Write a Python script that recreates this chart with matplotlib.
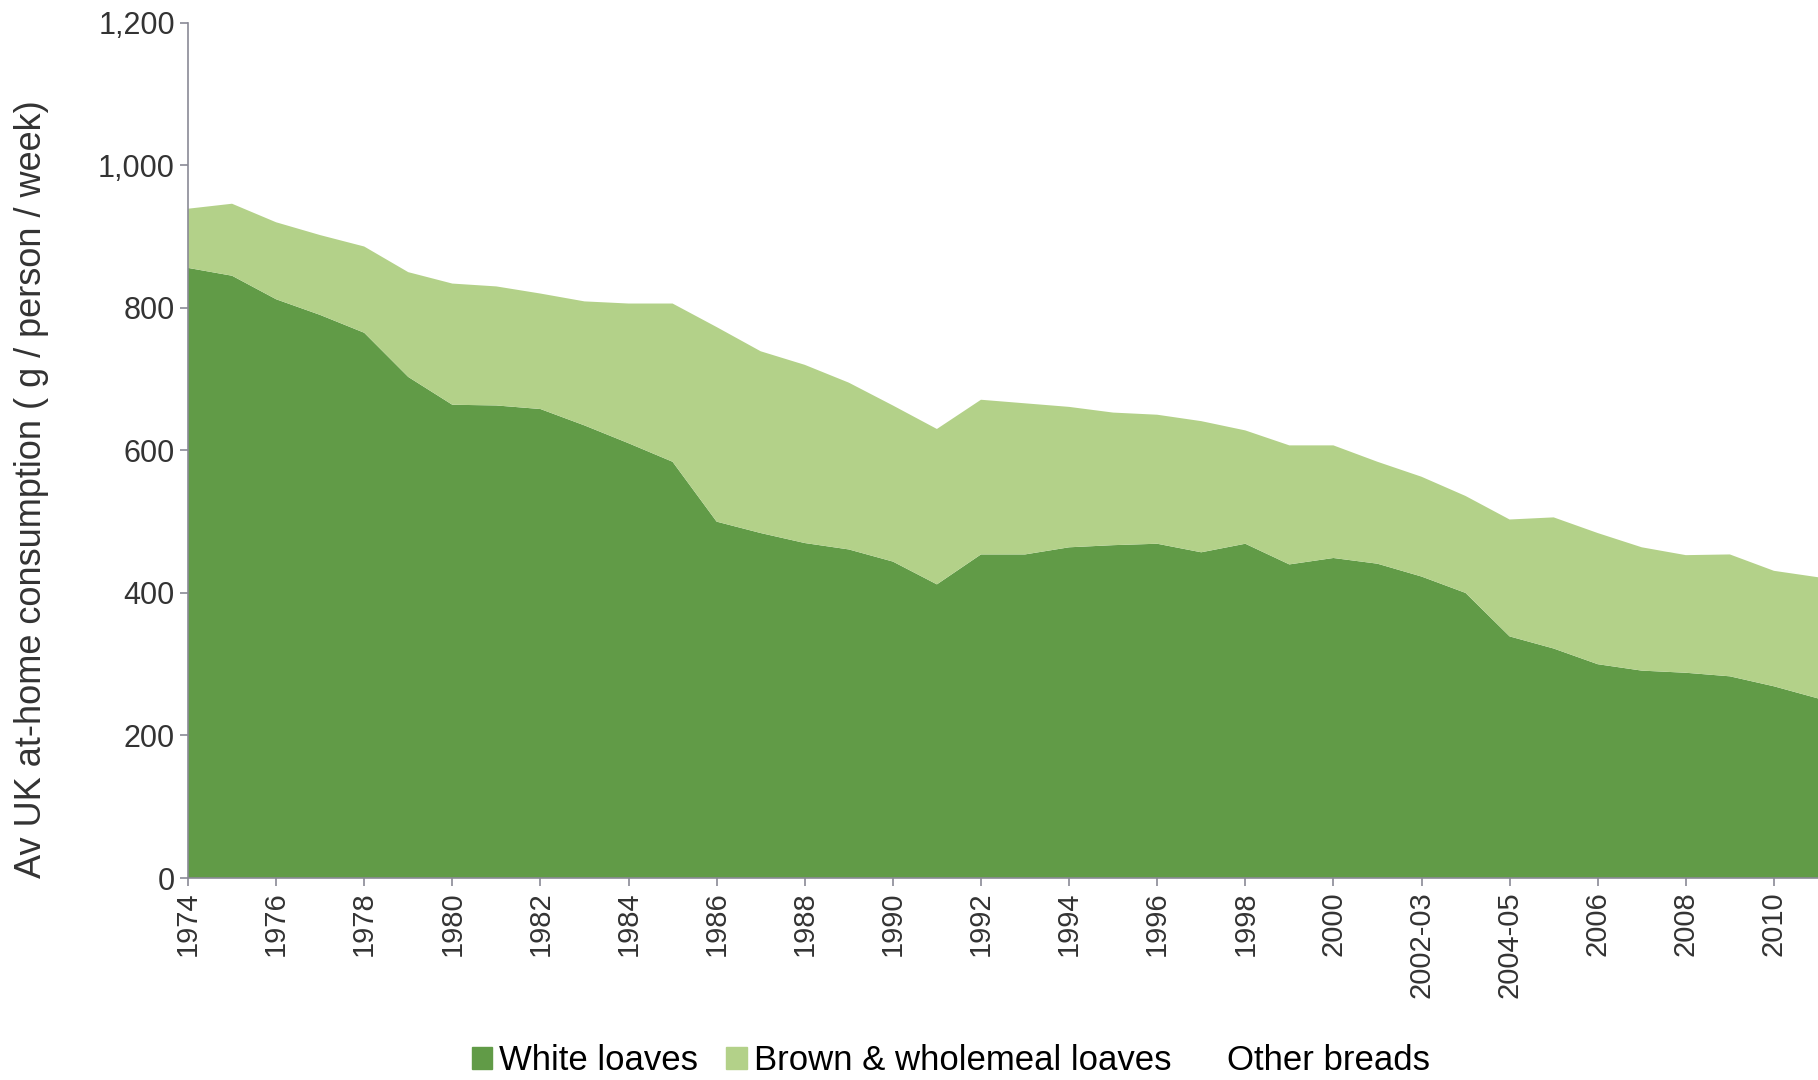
import matplotlib.pyplot as plt
from matplotlib.patches import Patch

plt.rcParams["font.family"] = ["Liberation Sans", "DejaVu Sans"]

# Years / periods (one point per survey year)
periods = ["1974", "1975", "1976", "1977", "1978", "1979", "1980", "1981", "1982",
           "1983", "1984", "1985", "1986", "1987", "1988", "1989", "1990", "1991",
           "1992", "1993", "1994", "1995", "1996", "1997", "1998", "1999", "2000",
           "2001-02", "2002-03", "2003-04", "2004-05", "2005-06", "2006", "2007",
           "2008", "2009", "2010", "2011"]

# g / person / week
white = [856, 845, 812, 790, 765, 703, 664, 663, 658, 635, 610, 584, 500, 484,
         470, 461, 444, 412, 454, 454, 464, 467, 469, 457, 469, 440, 449, 441,
         423, 400, 339, 322, 300, 291, 288, 283, 269, 252]
total = [939, 946, 920, 902, 886, 850, 834, 830, 820, 809, 806, 806, 773, 739,
         720, 695, 663, 630, 671, 666, 661, 653, 650, 641, 628, 607, 607, 584,
         563, 536, 503, 506, 484, 464, 453, 454, 431, 422]
brown = [t - w for t, w in zip(total, white)]

dark_green = "#619b47"
light_green = "#b3d189"

fig = plt.figure(figsize=(18.18, 10.8), dpi=100)
ax = fig.add_axes([0.1034, 0.187, 0.8966, 0.792])

x = list(range(len(periods)))
ax.stackplot(x, white, brown, colors=[dark_green, light_green], linewidth=0)

ax.set_xlim(0, len(periods) - 1)
ax.set_ylim(0, 1200)
ax.set_yticks(range(0, 1201, 200))
ax.set_yticklabels([f"{v:,}" for v in range(0, 1201, 200)], fontsize=22, color="#333333")
ax.set_xticks(x[::2])
ax.set_xticklabels(periods[::2], rotation=90, fontsize=21, color="#333333")
ax.set_ylabel("Av UK at-home consumption ( g / person / week)", fontsize=26,
              color="#333333")
ax.yaxis.set_label_coords(-0.085, 0.455)

for side in ["top", "right"]:
    ax.spines[side].set_visible(False)
for side in ["left", "bottom"]:
    ax.spines[side].set_color("#8a8a96")
    ax.spines[side].set_linewidth(1.2)
ax.tick_params(colors="#8a8a96", length=6, width=1.2)
ax.tick_params(labelcolor="#333333")

handles = [Patch(color=dark_green), Patch(color=light_green), Patch(color="white")]
fig.legend(handles, ["White loaves", "Brown & wholemeal loaves", "Other breads"],
           loc="center", bbox_to_anchor=(0.523, 0.018), ncol=3, frameon=False,
           fontsize=25, handlelength=0.6, handleheight=0.6, handletextpad=0.2,
           columnspacing=0.8)

plt.savefig("out.png", dpi=100)
plt.close()
